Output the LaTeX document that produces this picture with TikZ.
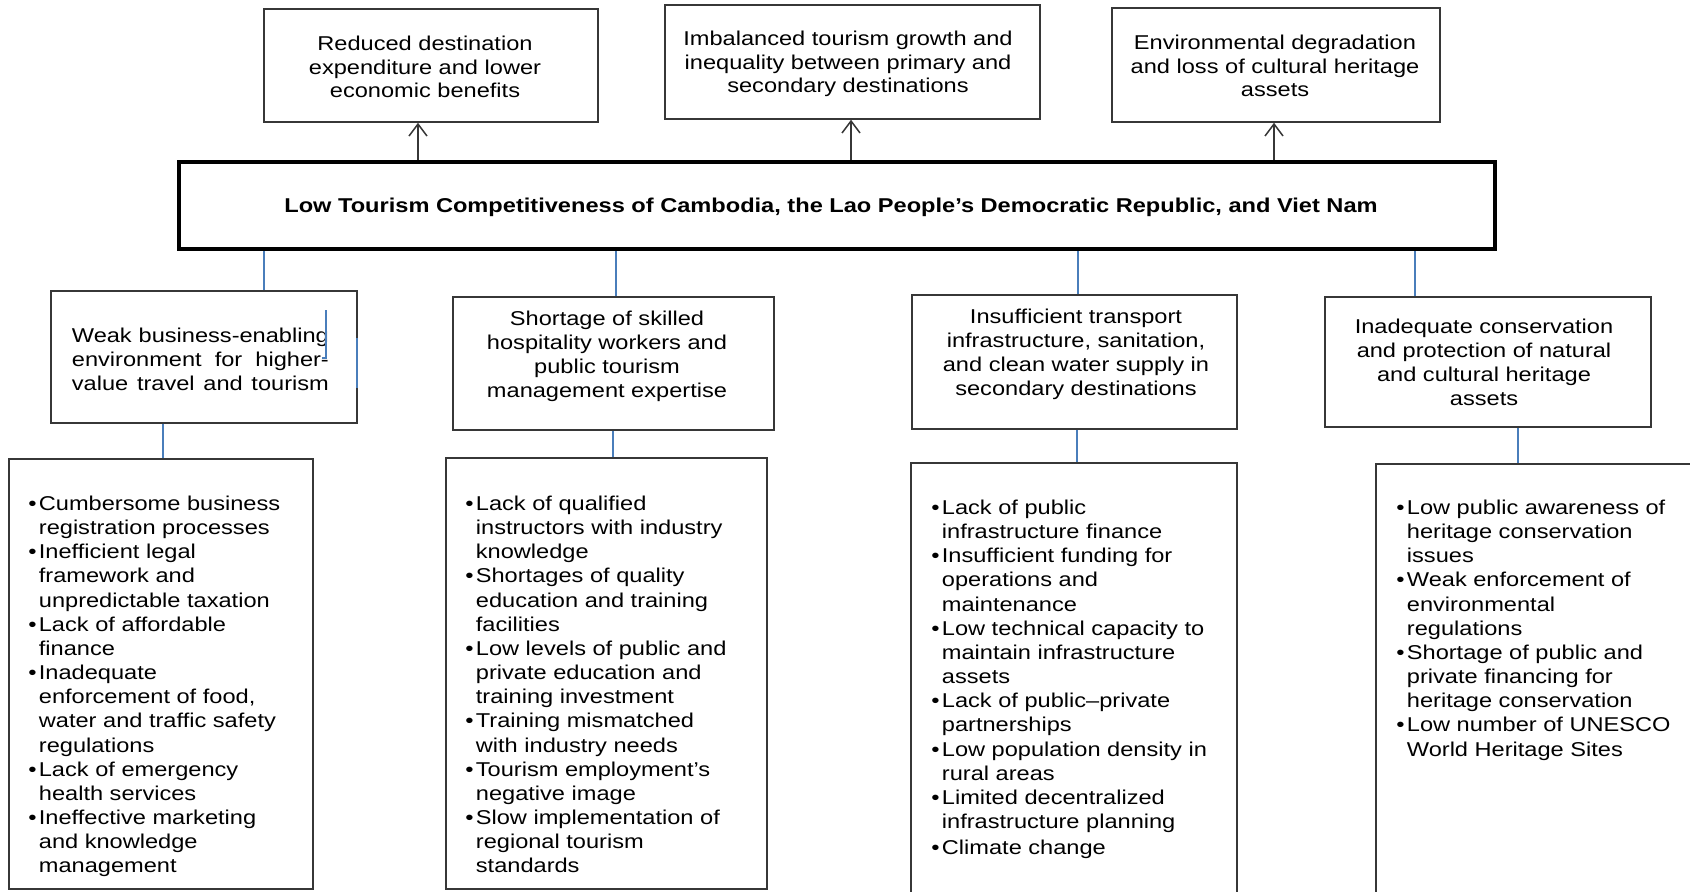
\documentclass[tikz,border=0pt]{standalone}
\usepackage{fontspec}
\setmainfont{Liberation Sans}[FakeStretch=1.18]
\usetikzlibrary{arrows.meta}
\definecolor{linkblue}{RGB}{74,126,187}
\definecolor{boxgray}{RGB}{55,55,55}
\newcommand{\bul}{\makebox[5.25pt][l]{\textbullet}}
\newcommand{\ind}{\hspace*{5.25pt}}
\newcommand{\fs}{\rule{0pt}{8pt}}
\newcommand{\jl}[1]{\makebox[128.5pt][s]{#1}}
\begin{document}
\begin{tikzpicture}[x=0.5pt,y=-0.5pt,
  box/.style={draw=boxgray, line width=0.75pt, inner sep=0pt, outer sep=auto},
  mainbox/.style={draw=black, line width=2pt, inner sep=0pt, outer sep=auto},
  txt/.style={inner sep=0pt, font=\fontsize{10}{12.08}\selectfont},
  toptxt/.style={txt, align=center, anchor=north, font=\fontsize{10}{11.8}\selectfont},
  midtxt/.style={txt, align=center, anchor=north},
  listtxt/.style={txt, align=left, anchor=north west},
  link/.style={draw=linkblue, line width=0.6pt},
  arr/.style={draw=boxgray, line width=0.75pt, -{Straight Barb[length=6pt,width=9pt]}}
]
\useasboundingbox (0,0) rectangle (1690,891);
\clip (0,0) rectangle (1690,891);
\fill[white] (0,0) rectangle (1690,891);

% top effect boxes
\node[box, minimum width=167pt, minimum height=56.5pt] (t1) at (431,65.5) {};
\node[box, minimum width=187.5pt, minimum height=57pt] (t2) at (852.5,62) {};
\node[box, minimum width=164pt, minimum height=57pt] (t3) at (1276,65) {};
\node[toptxt] (t1t) at (425,34) {\fs Reduced destination\\expenditure and lower\\economic benefits};
\node[toptxt] (t2t) at (848,29) {\fs Imbalanced tourism growth and\\inequality between primary and\\secondary destinations};
\node[toptxt] (t3t) at (1275,33) {\fs Environmental degradation\\and loss of cultural heritage\\assets};

% main problem
\node[mainbox, minimum width=658pt, minimum height=43.5pt] (main) at (837,205.5) {};
\node[txt, anchor=north] (maint) at (831,196) {\fs\bfseries Low Tourism Competitiveness of Cambodia, the Lao People’s Democratic Republic, and Viet Nam};

% cause boxes
\node[box, minimum width=153pt, minimum height=66pt] (m1) at (204,357) {};
\node[box, minimum width=160.5pt, minimum height=66.5pt] (m2) at (613.5,363.5) {};
\node[box, minimum width=162.5pt, minimum height=67pt] (m3) at (1074.5,362) {};
\node[box, minimum width=163pt, minimum height=65pt] (m4) at (1488,362) {};
\node[txt, align=left, anchor=north west] (m1t) at (71.5,326) {\fs\jl{Weak business-enabling}\\\jl{environment for higher-}\\\jl{value travel and tourism}};
\node[midtxt] (m2t) at (607,309) {\fs Shortage of skilled\\hospitality workers and\\public tourism\\management expertise};
\node[midtxt] (m3t) at (1076,307) {\fs Insufficient transport\\infrastructure, sanitation,\\and clean water supply in\\secondary destinations};
\node[midtxt] (m4t) at (1484,317) {\fs Inadequate conservation\\and protection of natural\\and cultural heritage\\assets};

% detail boxes
\node[box, minimum width=152pt, minimum height=215pt] (b1) at (161,674) {};
\node[box, minimum width=160.5pt, minimum height=215.5pt] (b2) at (606.5,673.5) {};
\node[box, minimum width=163pt, minimum height=218.5pt] (b3) at (1074,681.5) {};
\node[box, minimum width=167pt, minimum height=218pt] (b4) at (1543,682) {};

\node[listtxt] (b1t) at (28,494) {\fs\bul Cumbersome business\\
\ind registration processes\\
\bul Inefficient legal\\
\ind framework and\\
\ind unpredictable taxation\\
\bul Lack of affordable\\
\ind finance\\
\bul Inadequate\\
\ind enforcement of food,\\
\ind water and traffic safety\\
\ind regulations\\
\bul Lack of emergency\\
\ind health services\\
\bul Ineffective marketing\\
\ind and knowledge\\
\ind management};

\node[listtxt] (b2t) at (465,494) {\fs\bul Lack of qualified\\
\ind instructors with industry\\
\ind knowledge\\
\bul Shortages of quality\\
\ind education and training\\
\ind facilities\\
\bul Low levels of public and\\
\ind private education and\\
\ind training investment\\
\bul Training mismatched\\
\ind with industry needs\\
\bul Tourism employment’s\\
\ind negative image\\
\bul Slow implementation of\\
\ind regional tourism\\
\ind standards};

\node[listtxt] (b3t) at (931,498) {\fs\bul Lack of public\\
\ind infrastructure finance\\
\bul Insufficient funding for\\
\ind operations and\\
\ind maintenance\\
\bul Low technical capacity to\\
\ind maintain infrastructure\\
\ind assets\\
\bul Lack of public–private\\
\ind partnerships\\
\bul Low population density in\\
\ind rural areas\\
\bul Limited decentralized\\
\ind infrastructure planning\\[1pt]
\bul Climate change};

\node[listtxt] (b4t) at (1396,498) {\fs\bul Low public awareness of\\
\ind heritage conservation\\
\ind issues\\
\bul Weak enforcement of\\
\ind environmental\\
\ind regulations\\
\bul Shortage of public and\\
\ind private financing for\\
\ind heritage conservation\\
\bul Low number of UNESCO\\
\ind World Heritage Sites};

% arrows from the core problem to its effects
\coordinate (a1) at (418,0);
\coordinate (a2) at (851,0);
\coordinate (a3) at (1274,0);
\draw[arr] (main.north -| a1) -- (t1.south -| a1);
\draw[arr] (main.north -| a2) -- (t2.south -| a2);
\draw[arr] (main.north -| a3) -- (t3.south -| a3);

% links from the core problem to its causes
\coordinate (l1) at (264,0);
\coordinate (l2) at (616,0);
\coordinate (l3) at (1078,0);
\coordinate (l4) at (1415,0);
\draw[link] (main.south -| l1) -- (m1.north -| l1);
\draw[link] (main.south -| l2) -- (m2.north -| l2);
\draw[link] (main.south -| l3) -- (m3.north -| l3);
\draw[link] (main.south -| l4) -- (m4.north -| l4);

% links from causes to their details
\coordinate (d1) at (163,0);
\coordinate (d2) at (613,0);
\coordinate (d3) at (1077,0);
\coordinate (d4) at (1518,0);
\draw[link] (m1.south -| d1) -- (b1.north -| d1);
\draw[link] (m2.south -| d2) -- (b2.north -| d2);
\draw[link] (m3.south -| d3) -- (b3.north -| d3);
\draw[link] (m4.south -| d4) -- (b4.north -| d4);

% small blue marks inside the first cause box
\draw[link] (326,310) -- (326,358) -- (322,358);
\draw[link] (357,338) -- (357,388);
\end{tikzpicture}
\end{document}
